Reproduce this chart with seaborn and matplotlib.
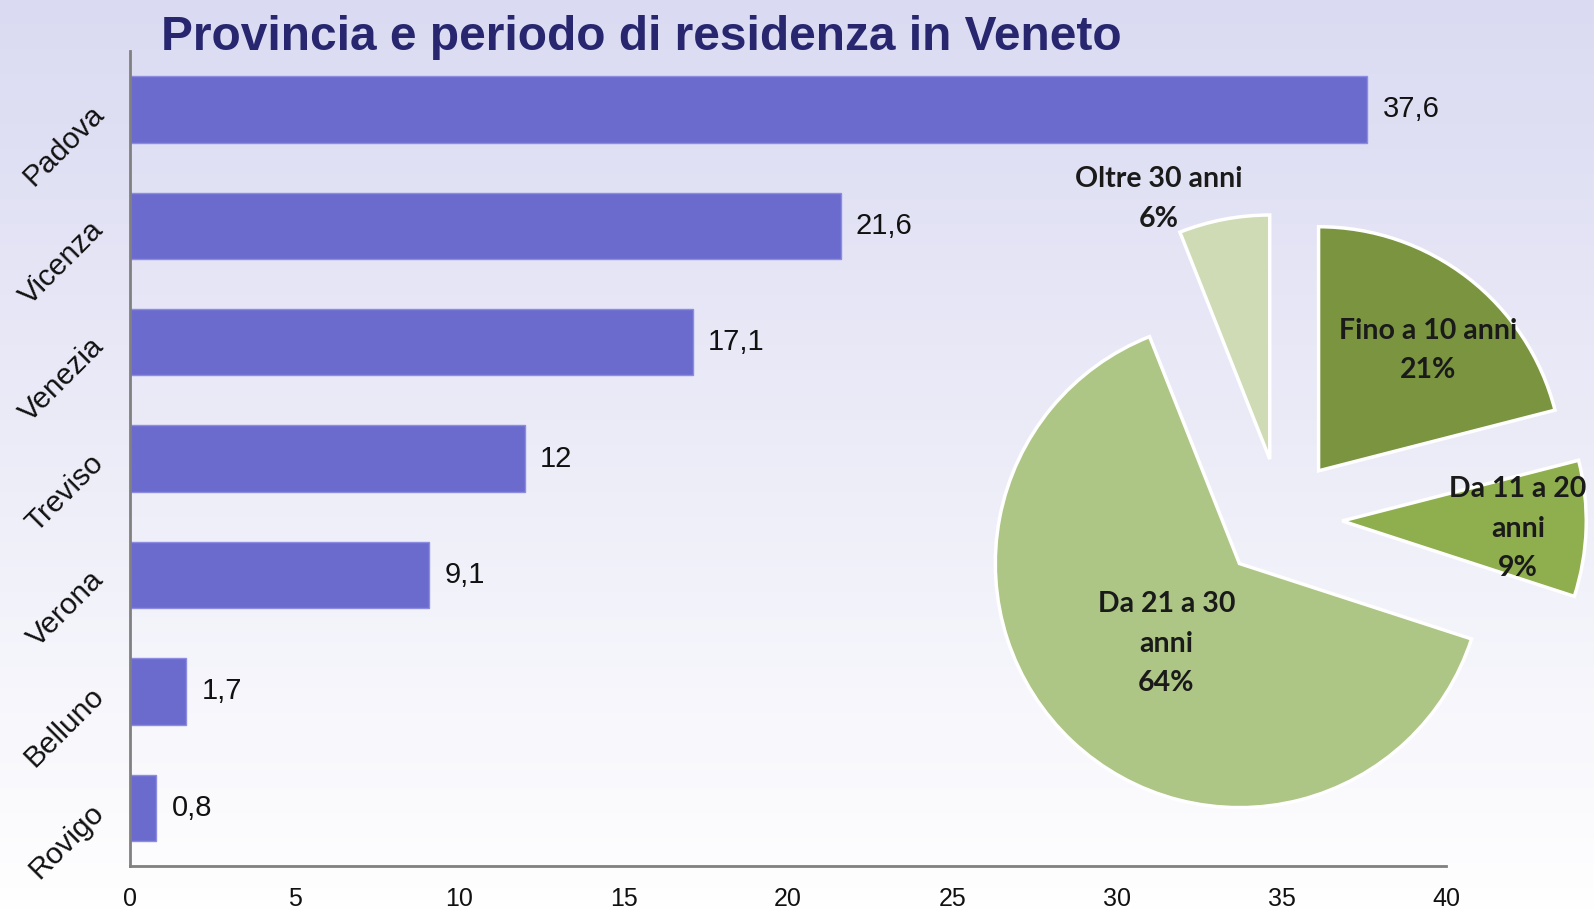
import matplotlib
matplotlib.use('Agg')
import matplotlib.pyplot as plt
import numpy as np
import seaborn as sns

# Bar chart data: residents by province (%)
province = ['Padova', 'Vicenza', 'Venezia', 'Treviso', 'Verona', 'Belluno', 'Rovigo']
quota = [37.6, 21.6, 17.1, 12, 9.1, 1.7, 0.8]
x_ticks = [0, 5, 10, 15, 20, 25, 30, 35, 40]

# Pie data: years of residence
periodo = ['Fino a 10 anni', 'Da 11 a 20\nanni', 'Da 21 a 30\nanni', 'Oltre 30 anni']
percentuale = [21, 9, 64, 6]

sns.set_theme(style='white')
plt.rcParams['font.family'] = ['Liberation Sans', 'DejaVu Sans']

fig = plt.figure(figsize=(15.94, 9.13), dpi=100)

# Background gradient (lavender -> white).
bg = fig.add_axes([0, 0, 1, 1], zorder=-10)
grad = np.linspace(0, 1, 256).reshape(-1, 1)
top = np.array([218, 218, 242]) / 255
bottom = np.array([255, 255, 255]) / 255
img = top + (bottom - top) * grad[:, :, None]
bg.imshow(img, aspect='auto', extent=[0, 1, 0, 1])
bg.axis('off')

# Horizontal bar chart.
ax = fig.add_axes([0.0816, 0.0515, 0.8256, 0.8925])
ax.patch.set_alpha(0)
sns.barplot(x=quota, y=province, orient='h', color='#6B6BCE', saturation=1,
            width=0.57, edgecolor='#8C8CE0', linewidth=1, ax=ax)
ax.set_xlim(0, 40)
ax.set_ylim(6.5, -0.5)
ax.set_xticks(x_ticks)
ax.set_xticklabels([str(t) for t in x_ticks])
ax.tick_params(axis='x', length=0, pad=15, labelsize=18, labelcolor='#111111')
ax.tick_params(axis='y', length=0, pad=22, labelsize=21.5, labelcolor='#111111')
for lbl in ax.get_yticklabels():
    lbl.set_rotation(45)
    lbl.set_ha('right')
    lbl.set_va('center')
    lbl.set_rotation_mode('anchor')
for side in ['top', 'right']:
    ax.spines[side].set_visible(False)
for side in ['left', 'bottom']:
    ax.spines[side].set_color('#808080')
    ax.spines[side].set_linewidth(2)
ax.set_xlabel('')
ax.set_ylabel('')
labels = [f'{v:g}'.replace('.', ',') for v in quota]
ax.bar_label(ax.containers[0], labels=labels, padding=11, fontsize=21, color='#111111')

fig.text(0.101, 0.945, 'Provincia e periodo di residenza in Veneto',
         ha='left', va='baseline', fontsize=34.5, fontweight='bold', color='#27266E')

# Exploded pie chart.
pax = fig.add_axes([0.603, 0.081, 0.4015, 0.701])
pax.patch.set_alpha(0)
colors = ['#7A9440', '#8FAE4E', '#ADC585', '#CEDBB5']
wedges, _ = pax.pie(percentuale, colors=colors, startangle=90, counterclock=False,
                    explode=[0.25] * 4, radius=1,
                    wedgeprops=dict(edgecolor='white', linewidth=2.5))
pax.set_xlim(-1.311, 1.311)
pax.set_ylim(-1.311, 1.311)
pax.set_aspect('equal')
pax.axis('off')

label_pos = [(0.60, 0.69), (0.97, -0.04), (-0.47, -0.51), (-0.50, 1.31)]
for name, pct, (lx, ly) in zip(periodo, percentuale, label_pos):
    pax.text(lx, ly, f'{name}\n{pct}%', ha='center', va='center', fontsize=20.5,
             fontweight='bold', color='#1A1A1A', linespacing=1.65,
             family=['Lato', 'DejaVu Sans'])

fig.savefig('out.png', dpi=100)
